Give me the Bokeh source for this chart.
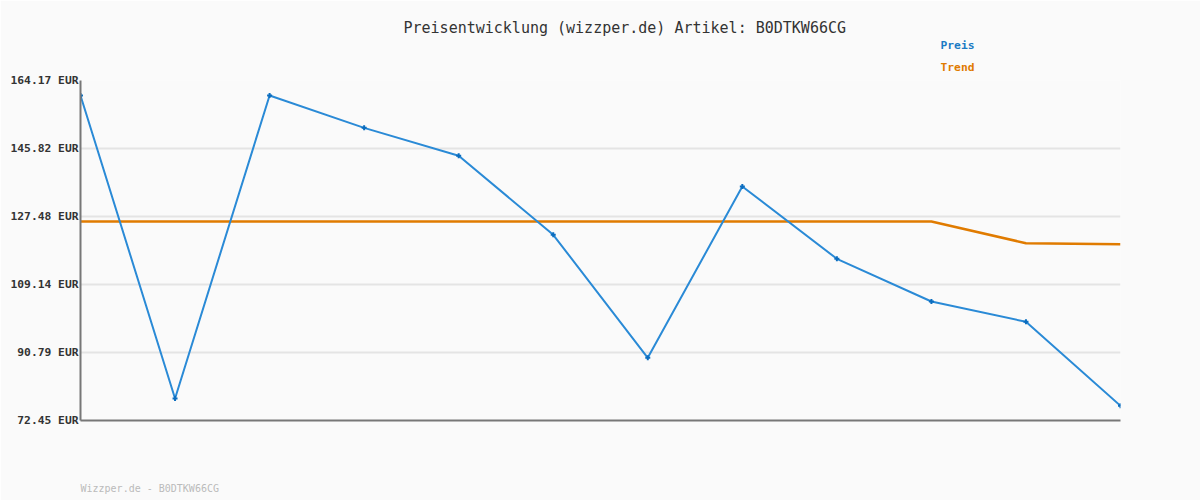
from bokeh.plotting import figure
from bokeh.models import Title, FixedTicker, PrintfTickFormatter, Range1d
from bokeh.embed import file_html
from bokeh.resources import INLINE

# ---- data ----
periods = list(range(12))
preis = [160.12, 78.39, 160.12, 151.40, 143.88, 122.55, 89.37, 135.58, 116.07, 104.55, 99.08, 76.42]
trend = [126.13, 126.13, 126.13, 126.13, 126.13, 126.13, 126.13, 126.13, 126.13, 126.13, 120.28, 120.00]
y_ticks = [72.45, 90.79, 109.14, 127.48, 145.82, 164.17]
title_text = "Preisentwicklung (wizzper.de) Artikel: B0DTKW66CG"
footer_text = "Wizzper.de - B0DTKW66CG"
legend_names = ["Preis", "Trend"]

BG = "#fafafa"
BLUE = "#2a8ad6"
BLUE_DARK = "#0b6dbf"
ORANGE = "#e07b00"
MONO = "DejaVu Sans Mono"

p = figure(width=1200, height=500, output_backend="svg", toolbar_location=None,
           min_border_left=80, min_border_right=80, min_border_top=80, min_border_bottom=80,
           x_range=Range1d(periods[0], periods[-1]), y_range=Range1d(y_ticks[0], y_ticks[-1]))
p.background_fill_color = BG
p.border_fill_color = BG
p.outline_line_color = None

# grid
p.xgrid.grid_line_color = None
p.ygrid.grid_line_color = "#e4e4e4"
p.ygrid.grid_line_width = 2

# y axis
p.yaxis.ticker = FixedTicker(ticks=y_ticks)
p.yaxis.formatter = PrintfTickFormatter(format="%.2f EUR")
p.yaxis.axis_line_color = "#777777"
p.yaxis.axis_line_width = 2
p.yaxis.major_tick_line_color = None
p.yaxis.minor_tick_line_color = None
p.yaxis.major_tick_out = 0
p.yaxis.major_tick_in = 0
p.yaxis.major_label_standoff = 2
p.yaxis.major_label_text_font = MONO
p.yaxis.major_label_text_font_style = "bold"
p.yaxis.major_label_text_font_size = "11.3px"
p.yaxis.major_label_text_color = "#333333"

# x axis (blank label used as spacer before the footer)
xax = p.xaxis[0]
xax.ticker = FixedTicker(ticks=[])
xax.axis_line_color = "#777777"
xax.axis_line_width = 2
xax.major_tick_line_color = None
xax.minor_tick_line_color = None
xax.major_tick_out = 0
xax.major_tick_in = 0
xax.major_label_standoff = 0
xax.major_label_text_font_size = "0px"
xax.axis_label = " "
xax.axis_label_standoff = 56
xax.axis_label_text_font_size = "1px"

# lines
p.line(periods, trend, line_color=ORANGE, line_width=2.5)
p.line(periods, preis, line_color=BLUE, line_width=2)
p.scatter(periods, preis, marker="cross", size=5, line_color=BLUE_DARK, line_width=2)

# texts (titles stacked above: first added is nearest the frame)
p.add_layout(Title(text=legend_names[1], align="left", offset=860, standoff=14,
                   text_font=MONO, text_font_size="11.3px", text_font_style="bold",
                   text_color=ORANGE), "above")
p.add_layout(Title(text=legend_names[0], align="left", offset=860, standoff=0,
                   text_font=MONO, text_font_size="11.3px", text_font_style="bold",
                   text_color="#1a7ac4"), "above")
p.add_layout(Title(text=title_text, align="left", offset=323, standoff=0,
                   text_font=MONO, text_font_size="15px", text_font_style="normal",
                   text_color="#333333"), "above")
p.add_layout(Title(text=footer_text, align="left", offset=0, standoff=0,
                   text_font=MONO, text_font_size="10px", text_font_style="normal",
                   text_color="#bbbbbb"), "below")

html = file_html(p, INLINE)
html = html.replace("<body>", '<body style="background:%s">' % BG, 1)
open("out.html", "w").write(html)
